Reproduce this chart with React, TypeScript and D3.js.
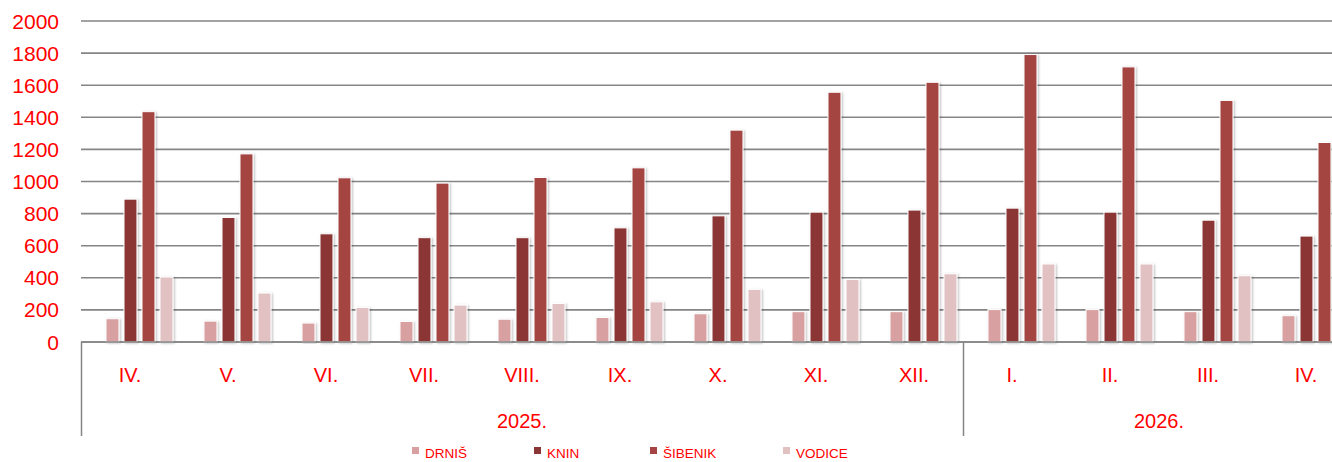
import React from 'react';
import * as d3 from 'd3';

const WIDTH = 1332;
const HEIGHT = 462;

const months = ['IV.', 'V.', 'VI.', 'VII.', 'VIII.', 'IX.', 'X.', 'XI.', 'XII.', 'I.', 'II.', 'III.', 'IV.'];
const years = ['2025.', '2026.'];
const yearSpan = [9, 4];
const seriesNames = ['DRNIŠ', 'KNIN', 'ŠIBENIK', 'VODICE'];
const colors = ['#d8a0a0', '#8b3636', '#a54443', '#e2c1c3'];

const drnis = [145, 130, 118, 128, 142, 153, 176, 189, 189, 202, 202, 189, 164];
const knin = [890, 776, 674, 650, 650, 711, 786, 809, 822, 834, 809, 759, 660];
const sibenik = [1435, 1172, 1023, 990, 1025, 1085, 1320, 1556, 1618, 1791, 1714, 1505, 1243];
const vodice = [405, 305, 215, 230, 240, 250, 328, 390, 425, 486, 486, 413, 350];
const yTicks = [0, 200, 400, 600, 800, 1000, 1200, 1400, 1600, 1800, 2000];

const series = [drnis, knin, sibenik, vodice];

// plot area (right side runs past the window, like the original)
const M = { l: 81, t: 21, b: 342, r: 1355 };
const legendX = [412, 534, 650, 783];
const FONT = '"Liberation Sans", Arial, sans-serif';
const RED = '#ff0000';
const GRID = '#858585';

const App = () => {
  const x = d3.scaleBand<number>().domain(d3.range(months.length)).range([M.l, M.r]).padding(0);
  const step = x.bandwidth();
  const inner = d3
    .scaleBand<number>()
    .domain(d3.range(seriesNames.length))
    .range([25, 25 + 18 * (4 - 0.28)])
    .paddingInner(0.28)
    .paddingOuter(0);
  const y = d3.scaleLinear().domain([0, 2000]).range([M.b, M.t]);

  // year group boundaries
  const bounds: number[] = [0];
  yearSpan.forEach((s, i) => bounds.push(bounds[i] + s));

  return (
    <svg
      width={WIDTH}
      height={HEIGHT}
      style={{ position: 'absolute', left: 0, top: 0, background: '#fff' }}
    >
      <defs>
        <filter id="shadow" x="-30%" y="-10%" width="160%" height="120%">
          <feDropShadow dx="1.2" dy="0.8" stdDeviation="1" floodColor="#000" floodOpacity="0.28" />
        </filter>
      </defs>

      {/* grid */}
      {yTicks.map((t) => (
        <line key={t} x1={M.l} x2={WIDTH} y1={y(t)} y2={y(t)} stroke={GRID} strokeWidth={1.6} />
      ))}

      {/* y labels */}
      {yTicks.map((t) => (
        <text
          key={'l' + t}
          x={59}
          y={y(t)}
          dy="0.36em"
          textAnchor="end"
          fill={RED}
          fontSize={21}
          fontFamily={FONT}
        >
          {t}
        </text>
      ))}

      {/* bars */}
      {series.map((vals, si) => (
        <g key={si} fill={colors[si]}>
          {vals.map((v, i) => (
            <rect
              key={i}
              x={(x(i) as number) + (inner(si) as number)}
              y={y(v)}
              width={inner.bandwidth()}
              height={y(0) - y(v)}
              stroke="#fff"
              strokeWidth={1}
              filter="url(#shadow)"
            />
          ))}
        </g>
      ))}

      {/* category axis */}
      <line x1={M.l} x2={WIDTH} y1={y(0)} y2={y(0)} stroke={GRID} strokeWidth={1.6} />
      {bounds.slice(0, -1).map((b, i) => (
        <line
          key={'v' + i}
          x1={(x(b) as number) + 0.5}
          x2={(x(b) as number) + 0.5}
          y1={y(0)}
          y2={436}
          stroke={GRID}
          strokeWidth={1.5}
        />
      ))}
      {months.map((m, i) => (
        <text
          key={'m' + i}
          x={(x(i) as number) + step / 2}
          y={375}
          dy="0.36em"
          textAnchor="middle"
          fill={RED}
          fontSize={20}
          fontFamily={FONT}
        >
          {m}
        </text>
      ))}
      {years.map((yr, i) => (
        <text
          key={yr}
          x={((x(bounds[i]) as number) + (x(bounds[i + 1] - 1) as number) + step) / 2}
          y={421}
          dy="0.36em"
          textAnchor="middle"
          fill={RED}
          fontSize={20}
          fontFamily={FONT}
        >
          {yr}
        </text>
      ))}

      {/* legend */}
      {seriesNames.map((n, i) => (
        <g key={n} transform={`translate(${legendX[i]},0)`}>
          <rect x={0} y={447} width={7} height={7} fill={colors[i]} />
          <text x={13} y={458} fill={RED} fontSize={13.5} fontFamily={FONT}>
            {n}
          </text>
        </g>
      ))}
    </svg>
  );
};

export default App;
